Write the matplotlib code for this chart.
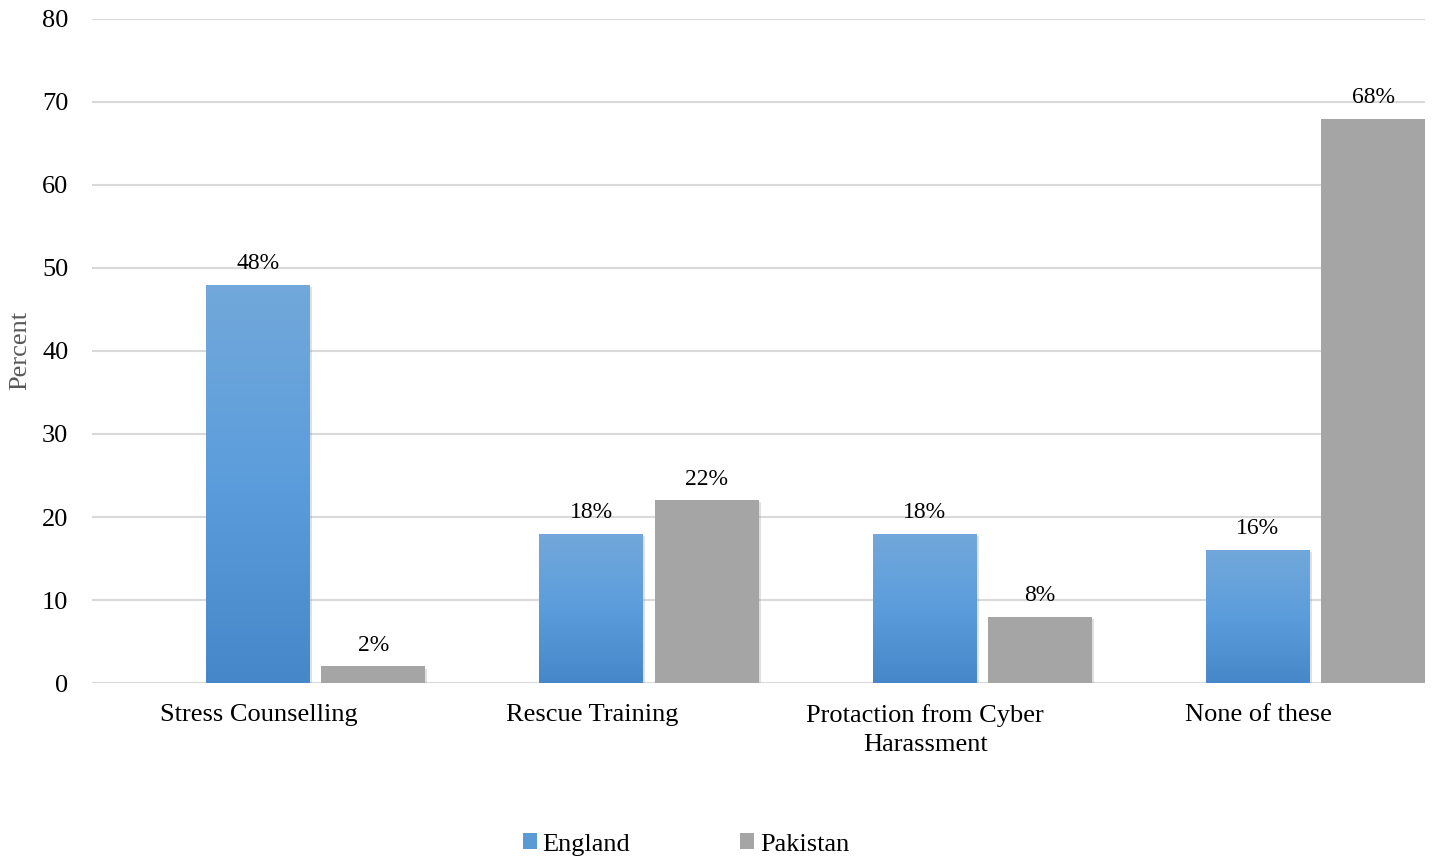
import matplotlib.pyplot as plt
import matplotlib.patheffects as pe
from matplotlib.patches import Patch
from matplotlib.colors import LinearSegmentedColormap
import numpy as np

categories = ["Stress Counselling", "Rescue Training", "Protaction from Cyber\nHarassment", "None of these"]
england = [48, 18, 18, 16]
pakistan = [2, 22, 8, 68]
yticks = [0, 10, 20, 30, 40, 50, 60, 70, 80]

plt.rcParams['font.family'] = ['Liberation Serif', 'DejaVu Serif']

fig = plt.figure(figsize=(14.38, 8.61), dpi=100)
ax = fig.add_axes([0.064, 0.2067, 0.927, 0.7713])

x = np.arange(len(categories))
w = 0.312
shadow = [pe.SimplePatchShadow(offset=(1.5, -1.5), shadow_rgbFace='#999999', alpha=0.3), pe.Normal()]

eng_bars = ax.bar(x - 0.002, england, width=w, color='#5b9bd5', zorder=3, path_effects=shadow)
pak_bars = ax.bar(x + 0.344, pakistan, width=w, color='#a5a5a5', zorder=3, path_effects=shadow)

# vertical gradient on the England bars
grad = np.linspace(0, 1, 256).reshape(-1, 1)
cmap = LinearSegmentedColormap.from_list('blue', ['#4587c8', '#5b9ddc', '#72a8da'])
for b in eng_bars:
    x0, y0 = b.get_x(), b.get_y()
    im = ax.imshow(grad, cmap=cmap, aspect='auto', origin='lower',
                   extent=[x0, x0 + b.get_width(), y0, y0 + b.get_height()], zorder=4)
    im.set_clip_path(b)

for b, v in zip(eng_bars, england):
    ax.text(b.get_x() + b.get_width() / 2, v + 1.3, f"{v}%", ha='center', va='bottom', fontsize=17)
for b, v in zip(pak_bars, pakistan):
    ax.text(b.get_x() + b.get_width() / 2, v + 1.3, f"{v}%", ha='center', va='bottom', fontsize=17)

ax.set_xlim(-0.5, 3.5)
ax.set_ylim(0, 80)
ax.set_yticks(yticks)
ax.set_xticks(x)
ax.set_xticklabels(categories, fontsize=19, linespacing=1.45)
ax.tick_params(axis='y', labelsize=19, length=0, pad=17)
ax.tick_params(axis='x', length=0, pad=15)
ax.grid(axis='y', color='#d9d9d9', linewidth=1.5, zorder=0)
ax.set_axisbelow(True)
for s in ax.spines.values():
    s.set_visible(False)

fig.text(0.014, 0.593, "Percent", rotation=90, ha='center', va='center', fontsize=19, color='#595959')

handles = [Patch(facecolor='#5b9bd5', label='England'), Patch(facecolor='#a5a5a5', label='Pakistan')]
fig.legend(handles=handles, loc='center', bbox_to_anchor=(0.477, 0.019), ncol=2, frameon=False,
           fontsize=19, handlelength=0.55, handleheight=0.55, handletextpad=0.2, columnspacing=4.15)

fig.savefig('out.png', dpi=100)
